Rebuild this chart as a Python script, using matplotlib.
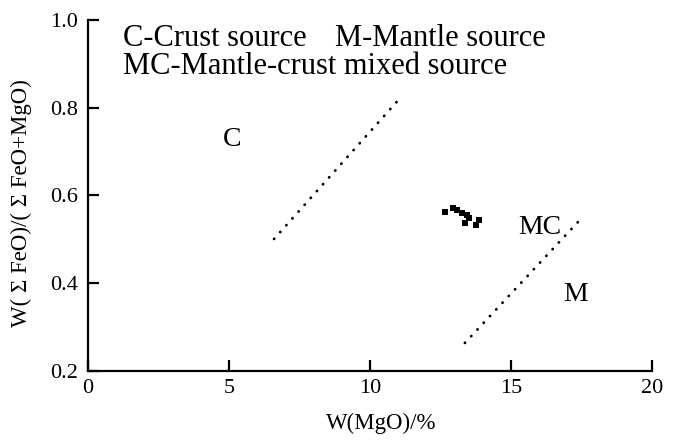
import matplotlib
matplotlib.use("Agg")
import matplotlib.pyplot as plt

# Data
mgo = [12.66, 12.94, 13.09, 13.26, 13.44, 13.37, 13.51, 13.87, 13.76]
fe_ratio = [0.562, 0.571, 0.567, 0.560, 0.556, 0.537, 0.549, 0.544, 0.533]

line1_x = [6.6, 11.1]
line1_y = [0.501, 0.824]
line2_x = [13.37, 17.55]
line2_y = [0.264, 0.551]

region_labels = ["C", "MC", "M"]
region_x = [5.1, 16.03, 17.3]
region_y = [0.728, 0.527, 0.374]

xticks = [0, 5, 10, 15, 20]
yticks = [0.2, 0.4, 0.6, 0.8, 1.0]

plt.rcParams['font.family'] = ['Liberation Serif', 'DejaVu Serif']

fig = plt.figure(figsize=(6.74, 4.42), dpi=100)
ax = fig.add_axes([0.1306, 0.1606, 0.8364, 0.7942])

ax.plot(line1_x, line1_y, color='black', lw=2.0, linestyle=(0, (0.1, 3.2)),
        dash_capstyle='round')
ax.plot(line2_x, line2_y, color='black', lw=2.0, linestyle=(0, (0.1, 3.2)),
        dash_capstyle='round')
ax.scatter(mgo, fe_ratio, marker='s', s=22, color='black', linewidths=0)

for t, x, y in zip(region_labels, region_x, region_y):
    ax.text(x, y, t, fontsize=20, ha='center', va='center')

ax.text(1.24, 0.940, "C-Crust source", fontsize=22, ha='left', va='baseline')
ax.text(8.76, 0.940, "M-Mantle source", fontsize=22, ha='left', va='baseline')
ax.text(1.24, 0.876, "MC-Mantle-crust mixed source", fontsize=22, ha='left', va='baseline')

ax.set_xlim(0, 20)
ax.set_ylim(0.2, 1.0)
ax.set_xticks(xticks)
ax.set_xticklabels([str(v) for v in xticks])
ax.set_yticks(yticks)
ax.set_yticklabels([f"{v:.1f}" for v in yticks])
ax.spines['top'].set_visible(False)
ax.spines['right'].set_visible(False)
for s in ['left', 'bottom']:
    ax.spines[s].set_linewidth(1.6)
ax.tick_params(direction='in', length=8, width=1.6, labelsize=16)
ax.tick_params(axis='y', pad=7)
ax.tick_params(axis='x', pad=6)

ax.set_xlabel("W(MgO)/%", fontsize=16.5)
ax.set_ylabel("W( Σ FeO)/( Σ FeO+MgO)", fontsize=16.5)
ax.xaxis.set_label_coords(0.5195, -0.12)
ax.yaxis.set_label_coords(-0.099, 0.479)

fig.savefig("out.png", dpi=100)
